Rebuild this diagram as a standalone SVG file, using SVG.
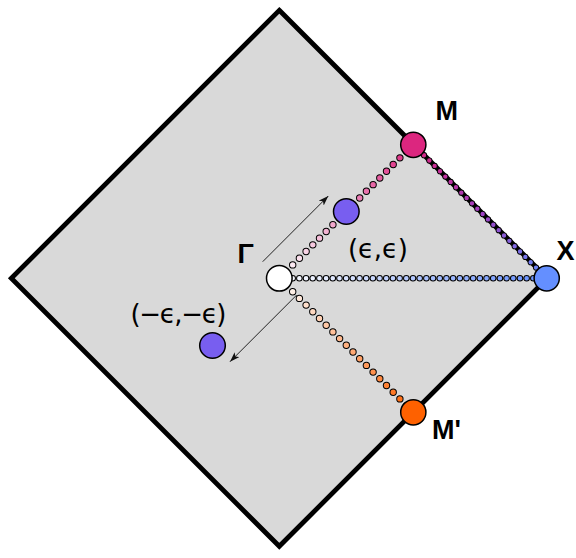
<svg xmlns="http://www.w3.org/2000/svg" width="576" height="558" viewBox="0 0 576 558">
  <style>
    .zone { fill: #d9d9d9; stroke: #000; stroke-width: 4.8; stroke-linejoin: miter; }
    .node { stroke: #000; stroke-width: 1.5; }
    .arrow { stroke: #222; stroke-width: 1; fill: none; marker-end: url(#head); }
    .dotb { stroke: #000; stroke-linecap: round; fill: none; }
    .dotc { stroke-linecap: round; fill: none; }
    .lbl { font-family: "Liberation Sans", Arial, sans-serif; font-weight: bold; font-size: 27px; fill: #000; }
    .math { font-family: "DejaVu Sans", sans-serif; font-size: 26px; fill: #000; }
  </style>
  <defs>
    <marker id="head" viewBox="0 0 10 7" refX="10" refY="3.5" markerWidth="10" markerHeight="7" markerUnits="userSpaceOnUse" orient="auto">
      <path d="M0,0 L10,3.5 L0,7 L2.5,3.5 z" fill="#111"/>
    </marker>
    <linearGradient id="gX" gradientUnits="userSpaceOnUse" x1="279.3" y1="278.3" x2="546.7" y2="278.3">
      <stop offset="0" stop-color="#ffffff"/>
      <stop offset="1" stop-color="#648fff"/>
    </linearGradient>
    <linearGradient id="gM" gradientUnits="userSpaceOnUse" x1="279.3" y1="278.3" x2="413.3" y2="144.5">
      <stop offset="0" stop-color="#ffffff"/>
      <stop offset="1" stop-color="#dc267f"/>
    </linearGradient>
    <linearGradient id="gMp" gradientUnits="userSpaceOnUse" x1="279.3" y1="278.3" x2="413.3" y2="412.3">
      <stop offset="0" stop-color="#ffffff"/>
      <stop offset="1" stop-color="#fe6100"/>
    </linearGradient>
    <linearGradient id="gMX" gradientUnits="userSpaceOnUse" x1="413.3" y1="144.5" x2="546.7" y2="278.3">
      <stop offset="0" stop-color="#dc267f"/>
      <stop offset="0.5" stop-color="#a03fc0"/>
      <stop offset="1" stop-color="#648fff"/>
    </linearGradient>
  </defs>

  <g id="zone">
    <polygon class="zone" points="279.3,10.3 547.3,278.3 279.3,546.3 11.3,278.3"/>
  </g>

  <g id="connectors">
    <!-- Gamma to X -->
    <line class="dotb" x1="279.3" y1="278.3" x2="546.7" y2="278.3" stroke-width="6.6" stroke-dasharray="0 6.685"/>
    <line class="dotc" x1="279.3" y1="278.3" x2="546.7" y2="278.3" stroke="url(#gX)" stroke-width="4.6" stroke-dasharray="0 6.685"/>
    <!-- Gamma to M -->
    <line class="dotb" x1="279.3" y1="278.3" x2="413.3" y2="144.5" stroke-width="7.4" stroke-dasharray="0 9.469"/>
    <line class="dotc" x1="279.3" y1="278.3" x2="413.3" y2="144.5" stroke="url(#gM)" stroke-width="5.4" stroke-dasharray="0 9.469"/>
    <!-- Gamma to M' -->
    <line class="dotb" x1="279.3" y1="278.3" x2="413.3" y2="412.3" stroke-width="7.4" stroke-dasharray="0 9.475"/>
    <line class="dotc" x1="279.3" y1="278.3" x2="413.3" y2="412.3" stroke="url(#gMp)" stroke-width="5.4" stroke-dasharray="0 9.475"/>
    <!-- M to X -->
    <line class="dotb" x1="413.3" y1="144.5" x2="546.7" y2="278.3" stroke-width="6.2" stroke-dasharray="0 7.557"/>
    <line class="dotc" x1="413.3" y1="144.5" x2="546.7" y2="278.3" stroke="url(#gMX)" stroke-width="4.4" stroke-dasharray="0 7.557"/>
    <!-- displacement arrows -->
    <line class="arrow" x1="262.7" y1="261.7" x2="328.3" y2="196"/>
    <line class="arrow" x1="296.7" y1="295" x2="230" y2="361.7"/>
  </g>

  <g id="node-gamma">
    <circle class="node" cx="279.3" cy="278.3" r="12.8" fill="#ffffff"/>
    <text class="lbl" x="237.5" y="263">Γ</text>
  </g>
  <g id="node-M">
    <circle class="node" cx="413.3" cy="144.8" r="12.6" fill="#dc267f"/>
    <text class="lbl" x="435.5" y="119.5">M</text>
  </g>
  <g id="node-X">
    <circle class="node" cx="546.7" cy="278.3" r="12.6" fill="#648fff"/>
    <text class="lbl" x="556.5" y="259.5">X</text>
  </g>
  <g id="node-Mprime">
    <circle class="node" cx="413.3" cy="412.3" r="12.6" fill="#fe6100"/>
    <text class="lbl" x="432" y="438.5">M'</text>
  </g>
  <g id="node-plus">
    <circle class="node" cx="346.3" cy="211.5" r="12.8" fill="#785ef0"/>
    <text class="math" x="348" y="258" textLength="60" lengthAdjust="spacing">(ϵ,ϵ)</text>
  </g>
  <g id="node-minus">
    <circle class="node" cx="212.5" cy="345.5" r="12.8" fill="#785ef0"/>
    <text class="math" x="130.5" y="322.5" textLength="96" lengthAdjust="spacing">(−ϵ,−ϵ)</text>
  </g>
</svg>
